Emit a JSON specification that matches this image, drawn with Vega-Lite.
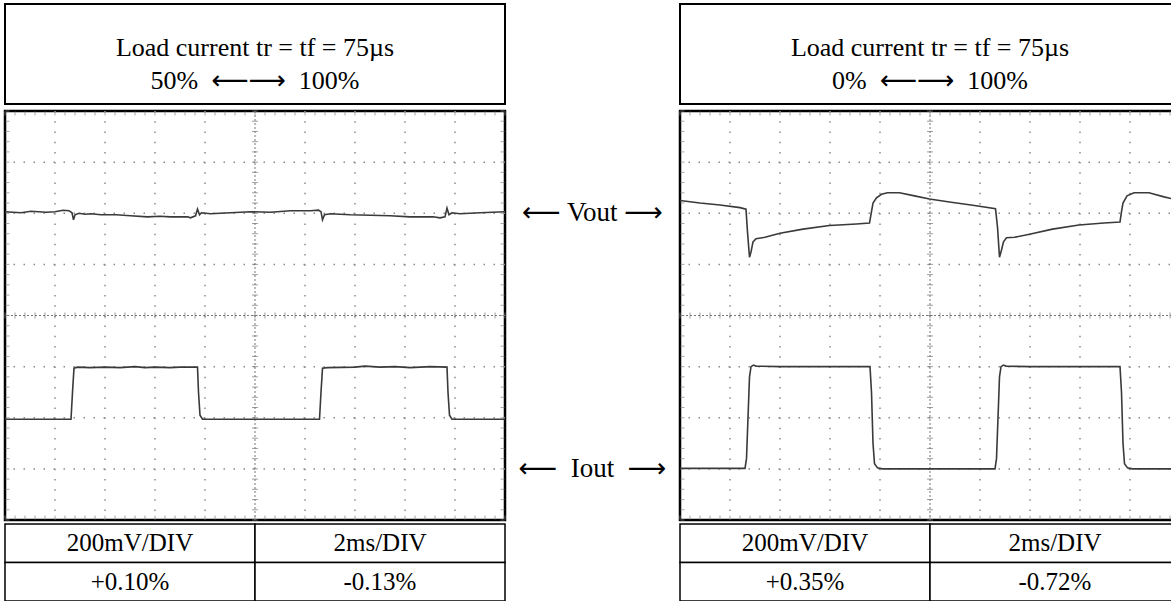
{
  "$schema": "https://vega.github.io/schema/vega-lite/v6.json",
  "background": "white",
  "padding": {"left": 0, "top": 3, "right": 0, "bottom": 0},
  "config": {"view": {"stroke": null}, "font": "Liberation Serif"},
  "datasets": {
    "left": [
      {"s":"V","t":0,"v":2.03},{"s":"V","t":0.32,"v":2.01},{"s":"V","t":0.52,"v":2.04},{"s":"V","t":0.82,"v":2.02},{"s":"V","t":1.0,"v":2.03},{"s":"V","t":1.16,"v":2.06},{"s":"V","t":1.28,"v":2.05},{"s":"V","t":1.34,"v":2.01},{"s":"V","t":1.37,"v":1.87},{"s":"V","t":1.40,"v":1.97},{"s":"V","t":1.48,"v":2.0},{"s":"V","t":1.6,"v":1.98},{"s":"V","t":1.72,"v":1.99},{"s":"V","t":1.92,"v":1.97},{"s":"V","t":2.22,"v":1.97},{"s":"V","t":2.51,"v":1.95},{"s":"V","t":2.85,"v":1.93},{"s":"V","t":3.1,"v":1.94},{"s":"V","t":3.31,"v":1.93},{"s":"V","t":3.65,"v":1.93},{"s":"V","t":3.71,"v":1.91},{"s":"V","t":3.81,"v":1.95},{"s":"V","t":3.85,"v":2.08},{"s":"V","t":3.89,"v":1.97},{"s":"V","t":3.93,"v":2.01},{"s":"V","t":4.11,"v":1.99},{"s":"V","t":4.3,"v":2.0},{"s":"V","t":4.51,"v":2.01},{"s":"V","t":4.91,"v":2.03},{"s":"V","t":5.31,"v":2.02},{"s":"V","t":5.71,"v":2.05},{"s":"V","t":6.11,"v":2.05},{"s":"V","t":6.27,"v":2.06},{"s":"V","t":6.32,"v":2.03},{"s":"V","t":6.35,"v":1.87},{"s":"V","t":6.39,"v":1.97},{"s":"V","t":6.51,"v":1.99},{"s":"V","t":6.7,"v":1.98},{"s":"V","t":6.91,"v":1.97},{"s":"V","t":7.31,"v":1.96},{"s":"V","t":7.7,"v":1.95},{"s":"V","t":8.1,"v":1.93},{"s":"V","t":8.56,"v":1.93},{"s":"V","t":8.7,"v":1.91},{"s":"V","t":8.8,"v":1.93},{"s":"V","t":8.84,"v":2.1},{"s":"V","t":8.88,"v":1.97},{"s":"V","t":8.94,"v":2.01},{"s":"V","t":9.1,"v":1.99},{"s":"V","t":9.5,"v":2.01},{"s":"V","t":10,"v":2.03},
      {"s":"I","t":0,"v":-2.03},{"s":"I","t":1.32,"v":-2.03},{"s":"I","t":1.35,"v":-1.5},{"s":"I","t":1.38,"v":-1.03},{"s":"I","t":1.45,"v":-1.01},{"s":"I","t":1.7,"v":-1.02},{"s":"I","t":2.0,"v":-1.01},{"s":"I","t":2.3,"v":-1.02},{"s":"I","t":2.6,"v":-1.0},{"s":"I","t":2.8,"v":-1.02},{"s":"I","t":3.0,"v":-1.01},{"s":"I","t":3.3,"v":-1.02},{"s":"I","t":3.5,"v":-1.01},{"s":"I","t":3.85,"v":-1.01},{"s":"I","t":3.87,"v":-1.5},{"s":"I","t":3.9,"v":-1.95},{"s":"I","t":3.95,"v":-2.03},{"s":"I","t":5,"v":-2.03},{"s":"I","t":6.29,"v":-2.03},{"s":"I","t":6.32,"v":-1.5},{"s":"I","t":6.35,"v":-1.03},{"s":"I","t":6.45,"v":-1.02},{"s":"I","t":7,"v":-1.01},{"s":"I","t":7.2,"v":-0.99},{"s":"I","t":7.5,"v":-1.01},{"s":"I","t":7.8,"v":-1.0},{"s":"I","t":8.1,"v":-1.02},{"s":"I","t":8.5,"v":-1.0},{"s":"I","t":8.84,"v":-1.01},{"s":"I","t":8.86,"v":-1.5},{"s":"I","t":8.89,"v":-1.95},{"s":"I","t":8.94,"v":-2.03},{"s":"I","t":10,"v":-2.03}
    ],
    "right": [
      {"s":"V","t":0,"v":2.25},{"s":"V","t":0.4,"v":2.2},{"s":"V","t":0.8,"v":2.16},{"s":"V","t":1.2,"v":2.11},{"s":"V","t":1.32,"v":2.08},{"s":"V","t":1.35,"v":1.63},{"s":"V","t":1.39,"v":1.14},{"s":"V","t":1.42,"v":1.24},{"s":"V","t":1.46,"v":1.44},{"s":"V","t":1.52,"v":1.5},{"s":"V","t":1.7,"v":1.53},{"s":"V","t":2.0,"v":1.61},{"s":"V","t":2.46,"v":1.69},{"s":"V","t":2.99,"v":1.76},{"s":"V","t":3.53,"v":1.79},{"s":"V","t":3.79,"v":1.81},{"s":"V","t":3.83,"v":2.03},{"s":"V","t":3.86,"v":2.2},{"s":"V","t":3.93,"v":2.3},{"s":"V","t":4.03,"v":2.37},{"s":"V","t":4.15,"v":2.4},{"s":"V","t":4.39,"v":2.4},{"s":"V","t":4.69,"v":2.34},{"s":"V","t":4.99,"v":2.28},{"s":"V","t":5.39,"v":2.22},{"s":"V","t":5.89,"v":2.15},{"s":"V","t":6.31,"v":2.09},{"s":"V","t":6.35,"v":1.73},{"s":"V","t":6.39,"v":1.14},{"s":"V","t":6.43,"v":1.28},{"s":"V","t":6.47,"v":1.44},{"s":"V","t":6.53,"v":1.52},{"s":"V","t":6.69,"v":1.53},{"s":"V","t":6.99,"v":1.59},{"s":"V","t":7.45,"v":1.69},{"s":"V","t":7.98,"v":1.77},{"s":"V","t":8.48,"v":1.81},{"s":"V","t":8.8,"v":1.83},{"s":"V","t":8.83,"v":2.03},{"s":"V","t":8.86,"v":2.2},{"s":"V","t":8.94,"v":2.34},{"s":"V","t":9.08,"v":2.4},{"s":"V","t":9.38,"v":2.4},{"s":"V","t":9.68,"v":2.32},{"s":"V","t":10,"v":2.25},
      {"s":"I","t":0,"v":-2.99},{"s":"I","t":1.3,"v":-2.99},{"s":"I","t":1.33,"v":-2.8},{"s":"I","t":1.36,"v":-2.0},{"s":"I","t":1.39,"v":-1.2},{"s":"I","t":1.42,"v":-1.0},{"s":"I","t":1.47,"v":-0.97},{"s":"I","t":1.52,"v":-0.99},{"s":"I","t":2,"v":-1.0},{"s":"I","t":3,"v":-1.0},{"s":"I","t":3.8,"v":-1.0},{"s":"I","t":3.83,"v":-1.5},{"s":"I","t":3.86,"v":-2.5},{"s":"I","t":3.89,"v":-2.9},{"s":"I","t":3.95,"v":-2.98},{"s":"I","t":4.05,"v":-3.0},{"s":"I","t":5,"v":-3.0},{"s":"I","t":6.3,"v":-3.0},{"s":"I","t":6.33,"v":-2.8},{"s":"I","t":6.36,"v":-2.0},{"s":"I","t":6.39,"v":-1.2},{"s":"I","t":6.42,"v":-1.0},{"s":"I","t":6.47,"v":-0.97},{"s":"I","t":6.52,"v":-0.99},{"s":"I","t":7,"v":-1.0},{"s":"I","t":8,"v":-1.0},{"s":"I","t":8.8,"v":-1.0},{"s":"I","t":8.83,"v":-1.5},{"s":"I","t":8.86,"v":-2.5},{"s":"I","t":8.89,"v":-2.9},{"s":"I","t":8.95,"v":-2.98},{"s":"I","t":9.05,"v":-3.0},{"s":"I","t":10,"v":-3.0}
    ],
    "gx": [{"g":1},{"g":2},{"g":3},{"g":4},{"g":6},{"g":7},{"g":8},{"g":9}],
    "gy": [{"g":-3},{"g":-2},{"g":-1},{"g":1},{"g":2},{"g":3}],
    "tx": [{"p":0},{"p":0.2},{"p":0.4},{"p":0.6},{"p":0.8},{"p":1},{"p":1.2},{"p":1.4},{"p":1.6},{"p":1.8},{"p":2},{"p":2.2},{"p":2.4},{"p":2.6},{"p":2.8},{"p":3},{"p":3.2},{"p":3.4},{"p":3.6},{"p":3.8},{"p":4},{"p":4.2},{"p":4.4},{"p":4.6},{"p":4.8},{"p":5},{"p":5.2},{"p":5.4},{"p":5.6},{"p":5.8},{"p":6},{"p":6.2},{"p":6.4},{"p":6.6},{"p":6.8},{"p":7},{"p":7.2},{"p":7.4},{"p":7.6},{"p":7.8},{"p":8},{"p":8.2},{"p":8.4},{"p":8.6},{"p":8.8},{"p":9},{"p":9.2},{"p":9.4},{"p":9.6},{"p":9.8},{"p":10}],
    "ty": [{"p":-4},{"p":-3.8},{"p":-3.6},{"p":-3.4},{"p":-3.2},{"p":-3},{"p":-2.8},{"p":-2.6},{"p":-2.4},{"p":-2.2},{"p":-2},{"p":-1.8},{"p":-1.6},{"p":-1.4},{"p":-1.2},{"p":-1},{"p":-0.8},{"p":-0.6},{"p":-0.4},{"p":-0.2},{"p":0},{"p":0.2},{"p":0.4},{"p":0.6},{"p":0.8},{"p":1},{"p":1.2},{"p":1.4},{"p":1.6},{"p":1.8},{"p":2},{"p":2.2},{"p":2.4},{"p":2.6},{"p":2.8},{"p":3},{"p":3.2},{"p":3.4},{"p":3.6},{"p":3.8},{"p":4}]
  },
  "spacing": 4,
  "vconcat": [
    {
      "spacing": 173,
      "hconcat": [
        {
          "width": 500, "height": 100,
          "view": {"stroke": "#000", "strokeWidth": 2},
          "data": {"values": [{"n": 1, "s": "Load current tr = tf = 75µs"}, {"n": 2, "s": "50%\u00a0 ⟵⟶ \u00a0100%"}]},
          "mark": {"type": "text", "fontSize": 26, "font": "Liberation Serif, DejaVu Sans", "baseline": "middle", "color": "#000"},
          "encoding": {
            "y": {"field": "n", "type": "ordinal", "axis": null, "scale": {"type": "point", "padding": 1.352, "align": 0.66}},
            "text": {"field": "s"}
          }
        },
        {
          "width": 500, "height": 100,
          "view": {"stroke": "#000", "strokeWidth": 2},
          "data": {"values": [{"n": 1, "s": "Load current tr = tf = 75µs"}, {"n": 2, "s": "0%\u00a0 ⟵⟶ \u00a0100%"}]},
          "mark": {"type": "text", "fontSize": 26, "font": "Liberation Serif, DejaVu Sans", "baseline": "middle", "color": "#000"},
          "encoding": {
            "y": {"field": "n", "type": "ordinal", "axis": null, "scale": {"type": "point", "padding": 1.352, "align": 0.66}},
            "text": {"field": "s"}
          }
        }
      ]
    },
    {
      "spacing": 1,
      "vconcat": [
        {
          "bounds": "flush",
          "spacing": 0,
          "hconcat": [
            {
              "width": 500, "height": 409,
              "view": {"stroke": "#000", "strokeWidth": 2.5},
              "layer": [
                {"data": {"name": "gx"}, "mark": {"type": "rule", "color": "#8c8c8c", "strokeWidth": 1.5, "strokeDash": [1.5, 8.72]}, "encoding": {"x": {"field": "g", "type": "quantitative", "scale": {"domain": [0, 10], "nice": false, "zero": false}, "axis": null}}},
                {"data": {"name": "gy"}, "mark": {"type": "rule", "color": "#8c8c8c", "strokeWidth": 1.5, "strokeDash": [1.5, 8.5]}, "encoding": {"y": {"field": "g", "type": "quantitative", "scale": {"domain": [-4, 4], "nice": false, "zero": false}, "axis": null}}},
                {"data": {"values": [{}]}, "mark": {"type": "rule", "color": "#777", "strokeWidth": 1, "strokeDash": [2, 2]}, "encoding": {"y": {"datum": 0, "type": "quantitative", "scale": {"domain": [-4, 4], "nice": false, "zero": false}, "axis": null}}},
                {"data": {"values": [{}]}, "mark": {"type": "rule", "color": "#777", "strokeWidth": 1, "strokeDash": [2, 2]}, "encoding": {"x": {"datum": 5, "type": "quantitative", "scale": {"domain": [0, 10], "nice": false, "zero": false}, "axis": null}}},
                {"data": {"name": "tx"}, "mark": {"type": "tick", "orient": "vertical", "size": 6, "thickness": 1, "color": "#777"}, "encoding": {"x": {"field": "p", "type": "quantitative", "scale": {"domain": [0, 10], "nice": false, "zero": false}, "axis": null}, "y": {"datum": 0, "type": "quantitative", "scale": {"domain": [-4, 4], "nice": false, "zero": false}, "axis": null}}},
                {"data": {"name": "ty"}, "mark": {"type": "tick", "orient": "horizontal", "size": 6, "thickness": 1, "color": "#777"}, "encoding": {"y": {"field": "p", "type": "quantitative", "scale": {"domain": [-4, 4], "nice": false, "zero": false}, "axis": null}, "x": {"datum": 5, "type": "quantitative", "scale": {"domain": [0, 10], "nice": false, "zero": false}, "axis": null}}},
                {"data": {"name": "tx"}, "mark": {"type": "tick", "orient": "vertical", "size": 4, "thickness": 1, "color": "#888"}, "encoding": {"x": {"field": "p", "type": "quantitative", "scale": {"domain": [0, 10], "nice": false, "zero": false}, "axis": null}, "y": {"datum": -3.95, "type": "quantitative", "scale": {"domain": [-4, 4], "nice": false, "zero": false}, "axis": null}}},
                {"data": {"name": "tx"}, "mark": {"type": "tick", "orient": "vertical", "size": 4, "thickness": 1, "color": "#888"}, "encoding": {"x": {"field": "p", "type": "quantitative", "scale": {"domain": [0, 10], "nice": false, "zero": false}, "axis": null}, "y": {"datum": 3.95, "type": "quantitative", "scale": {"domain": [-4, 4], "nice": false, "zero": false}, "axis": null}}},
                {"data": {"name": "ty"}, "mark": {"type": "tick", "orient": "horizontal", "size": 4, "thickness": 1, "color": "#888"}, "encoding": {"y": {"field": "p", "type": "quantitative", "scale": {"domain": [-4, 4], "nice": false, "zero": false}, "axis": null}, "x": {"datum": 0.05, "type": "quantitative", "scale": {"domain": [0, 10], "nice": false, "zero": false}, "axis": null}}},
                {"data": {"name": "ty"}, "mark": {"type": "tick", "orient": "horizontal", "size": 4, "thickness": 1, "color": "#888"}, "encoding": {"y": {"field": "p", "type": "quantitative", "scale": {"domain": [-4, 4], "nice": false, "zero": false}, "axis": null}, "x": {"datum": 9.95, "type": "quantitative", "scale": {"domain": [0, 10], "nice": false, "zero": false}, "axis": null}}},
                {"data": {"name": "left"}, "mark": {"type": "line", "color": "#3a3a3a", "strokeWidth": 1.6},
                 "encoding": {
                   "x": {"field": "t", "type": "quantitative", "scale": {"domain": [0, 10], "nice": false, "zero": false}, "axis": null},
                   "y": {"field": "v", "type": "quantitative", "scale": {"domain": [-4, 4], "nice": false, "zero": false}, "axis": null},
                   "detail": {"field": "s", "type": "nominal"}
                 }}
              ]
            },
            {
              "width": 175, "height": 409,
              "data": {"values": [{"name": "⟵ Vout ⟶", "level": 2}, {"name": "⟵\u00a0 Iout \u00a0⟶", "level": -3}]},
              "mark": {"type": "text", "fontSize": 27, "font": "Liberation Serif, DejaVu Sans", "baseline": "middle", "color": "#000"},
              "encoding": {
                "y": {"field": "level", "type": "quantitative", "scale": {"domain": [-4, 4], "nice": false, "zero": false}, "axis": null},
                "text": {"field": "name"}
              }
            },
            {
              "width": 500, "height": 409,
              "view": {"stroke": "#000", "strokeWidth": 2.5},
              "layer": [
                {"data": {"name": "gx"}, "mark": {"type": "rule", "color": "#8c8c8c", "strokeWidth": 1.5, "strokeDash": [1.5, 8.72]}, "encoding": {"x": {"field": "g", "type": "quantitative", "scale": {"domain": [0, 10], "nice": false, "zero": false}, "axis": null}}},
                {"data": {"name": "gy"}, "mark": {"type": "rule", "color": "#8c8c8c", "strokeWidth": 1.5, "strokeDash": [1.5, 8.5]}, "encoding": {"y": {"field": "g", "type": "quantitative", "scale": {"domain": [-4, 4], "nice": false, "zero": false}, "axis": null}}},
                {"data": {"values": [{}]}, "mark": {"type": "rule", "color": "#777", "strokeWidth": 1, "strokeDash": [2, 2]}, "encoding": {"y": {"datum": 0, "type": "quantitative", "scale": {"domain": [-4, 4], "nice": false, "zero": false}, "axis": null}}},
                {"data": {"values": [{}]}, "mark": {"type": "rule", "color": "#777", "strokeWidth": 1, "strokeDash": [2, 2]}, "encoding": {"x": {"datum": 5, "type": "quantitative", "scale": {"domain": [0, 10], "nice": false, "zero": false}, "axis": null}}},
                {"data": {"name": "tx"}, "mark": {"type": "tick", "orient": "vertical", "size": 6, "thickness": 1, "color": "#777"}, "encoding": {"x": {"field": "p", "type": "quantitative", "scale": {"domain": [0, 10], "nice": false, "zero": false}, "axis": null}, "y": {"datum": 0, "type": "quantitative", "scale": {"domain": [-4, 4], "nice": false, "zero": false}, "axis": null}}},
                {"data": {"name": "ty"}, "mark": {"type": "tick", "orient": "horizontal", "size": 6, "thickness": 1, "color": "#777"}, "encoding": {"y": {"field": "p", "type": "quantitative", "scale": {"domain": [-4, 4], "nice": false, "zero": false}, "axis": null}, "x": {"datum": 5, "type": "quantitative", "scale": {"domain": [0, 10], "nice": false, "zero": false}, "axis": null}}},
                {"data": {"name": "tx"}, "mark": {"type": "tick", "orient": "vertical", "size": 4, "thickness": 1, "color": "#888"}, "encoding": {"x": {"field": "p", "type": "quantitative", "scale": {"domain": [0, 10], "nice": false, "zero": false}, "axis": null}, "y": {"datum": -3.95, "type": "quantitative", "scale": {"domain": [-4, 4], "nice": false, "zero": false}, "axis": null}}},
                {"data": {"name": "tx"}, "mark": {"type": "tick", "orient": "vertical", "size": 4, "thickness": 1, "color": "#888"}, "encoding": {"x": {"field": "p", "type": "quantitative", "scale": {"domain": [0, 10], "nice": false, "zero": false}, "axis": null}, "y": {"datum": 3.95, "type": "quantitative", "scale": {"domain": [-4, 4], "nice": false, "zero": false}, "axis": null}}},
                {"data": {"name": "ty"}, "mark": {"type": "tick", "orient": "horizontal", "size": 4, "thickness": 1, "color": "#888"}, "encoding": {"y": {"field": "p", "type": "quantitative", "scale": {"domain": [-4, 4], "nice": false, "zero": false}, "axis": null}, "x": {"datum": 0.05, "type": "quantitative", "scale": {"domain": [0, 10], "nice": false, "zero": false}, "axis": null}}},
                {"data": {"name": "ty"}, "mark": {"type": "tick", "orient": "horizontal", "size": 4, "thickness": 1, "color": "#888"}, "encoding": {"y": {"field": "p", "type": "quantitative", "scale": {"domain": [-4, 4], "nice": false, "zero": false}, "axis": null}, "x": {"datum": 9.95, "type": "quantitative", "scale": {"domain": [0, 10], "nice": false, "zero": false}, "axis": null}}},
                {"data": {"name": "right"}, "mark": {"type": "line", "color": "#3a3a3a", "strokeWidth": 1.6},
                 "encoding": {
                   "x": {"field": "t", "type": "quantitative", "scale": {"domain": [0, 10], "nice": false, "zero": false}, "axis": null},
                   "y": {"field": "v", "type": "quantitative", "scale": {"domain": [-4, 4], "nice": false, "zero": false}, "axis": null},
                   "detail": {"field": "s", "type": "nominal"}
                 }}
              ]
            }
          ]
        },
        {
          "spacing": 173,
          "hconcat": [
            {
              "width": 500, "height": 77,
              "data": {"values": [{"c": "a", "r": "1", "label": "200mV/DIV"}, {"c": "b", "r": "1", "label": "2ms/DIV"}, {"c": "a", "r": "2", "label": "+0.10%"}, {"c": "b", "r": "2", "label": "-0.13%"}]},
              "layer": [
                {"mark": {"type": "rect", "fill": "white", "stroke": "#000", "strokeWidth": 1.5},
                 "encoding": {"x": {"field": "c", "type": "nominal", "axis": null, "scale": {"paddingInner": 0, "paddingOuter": 0}}, "y": {"field": "r", "type": "nominal", "axis": null, "scale": {"paddingInner": 0, "paddingOuter": 0}}}},
                {"mark": {"type": "text", "fontSize": 25, "font": "Liberation Serif", "baseline": "middle", "color": "#000"},
                 "encoding": {"x": {"field": "c", "type": "nominal", "axis": null}, "y": {"field": "r", "type": "nominal", "axis": null}, "text": {"field": "label"}}}
              ]
            },
            {
              "width": 500, "height": 77,
              "data": {"values": [{"c": "a", "r": "1", "label": "200mV/DIV"}, {"c": "b", "r": "1", "label": "2ms/DIV"}, {"c": "a", "r": "2", "label": "+0.35%"}, {"c": "b", "r": "2", "label": "-0.72%"}]},
              "layer": [
                {"mark": {"type": "rect", "fill": "white", "stroke": "#000", "strokeWidth": 1.5},
                 "encoding": {"x": {"field": "c", "type": "nominal", "axis": null, "scale": {"paddingInner": 0, "paddingOuter": 0}}, "y": {"field": "r", "type": "nominal", "axis": null, "scale": {"paddingInner": 0, "paddingOuter": 0}}}},
                {"mark": {"type": "text", "fontSize": 25, "font": "Liberation Serif", "baseline": "middle", "color": "#000"},
                 "encoding": {"x": {"field": "c", "type": "nominal", "axis": null}, "y": {"field": "r", "type": "nominal", "axis": null}, "text": {"field": "label"}}}
              ]
            }
          ]
        }
      ]
    }
  ]
}
